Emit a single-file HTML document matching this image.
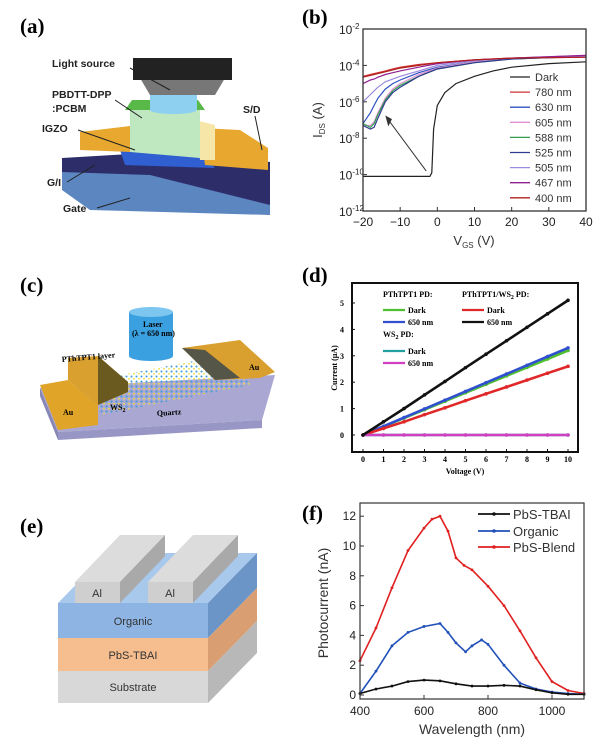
<!DOCTYPE html>
<html><head><meta charset="utf-8"><style>
html,body{margin:0;padding:0;background:#fff;}
svg{display:block;font-family:"Liberation Sans",sans-serif;}
.pl{font-family:"Liberation Serif",serif;font-weight:bold;font-size:21px;}
.tk{font-size:12px;fill:#222;}
.sr{font-family:"Liberation Serif",serif;font-weight:bold;font-size:8px;}
</style></head><body>
<svg id="fig" width="600" height="747" viewBox="0 0 600 747" xmlns="http://www.w3.org/2000/svg">
<defs>
<pattern id="dots" width="5" height="5" patternUnits="userSpaceOnUse"><circle cx="1.5" cy="1.5" r="1" fill="#3b9ad8"/><circle cx="4" cy="3.8" r="0.9" fill="#e8e040"/></pattern>
</defs>
<!-- panel a -->
<g>
<text class="pl" x="20" y="33">(a)</text>
<polygon points="62,158 200,150 270,162 270,215 62,190" fill="#2d2d6a"/>
<polygon points="62,172 150,175 270,205 270,215 90,210 62,190" fill="#5b86c0"/>
<polygon points="120,150 200,150 215,168 125,165" fill="#2f5fd0"/>
<polygon points="80,132 130,126 130,152 80,150" fill="#e8a830"/>
<polygon points="200,128 240,130 268,148 268,170 205,165" fill="#e8a830"/>
<polygon points="195,120 215,125 215,160 200,160" fill="#f6e6a8"/>
<polygon points="130,108 200,108 200,158 130,152" fill="#bfe8c0"/>
<polygon points="132,100 198,100 205,110 125,110" fill="#58b848"/>
<rect x="150" y="88" width="47" height="22" fill="#8ed0f0"/>
<ellipse cx="173.5" cy="110" rx="23.5" ry="4" fill="#8ed0f0"/>
<polygon points="140,78 225,78 215,95 150,95" fill="#777"/>
<rect x="133" y="58" width="99" height="22" fill="#222"/>
<g font-weight="bold" font-size="10.5" fill="#222">
<text x="52" y="67">Light source</text>
<text x="52" y="98">PBDTT-DPP</text>
<text x="52" y="112">:PCBM</text>
<text x="42" y="132">IGZO</text>
<text x="243" y="113">S/D</text>
<text x="47" y="186">G/I</text>
<text x="63" y="212">Gate</text>
</g>
<g stroke="#222" stroke-width="1">
<line x1="130" y1="68" x2="170" y2="90"/><line x1="115" y1="100" x2="142" y2="118"/>
<line x1="78" y1="130" x2="135" y2="150"/><line x1="255" y1="116" x2="262" y2="150"/>
<line x1="67" y1="182" x2="95" y2="165"/><line x1="97" y1="208" x2="130" y2="198"/>
</g>
</g>
<!-- panel c -->
<g>
<text class="pl" x="20" y="292">(c)</text>
<polygon points="40,388 275,375 262,420 58,432" fill="#aaa8d2"/>
<polygon points="40,388 58,432 58,440 40,396" fill="#8886b5"/>
<polygon points="58,432 262,420 262,428 58,440" fill="#9896c4"/>
<polygon points="95,380 240,352 250,385 100,415" fill="url(#dots)"/>
<polygon points="40,385 68,380 98,405 98,425 58,430" fill="#e0a528"/>
<polygon points="68,358 98,356 128,382 98,405 68,380" fill="#d9a030"/>
<polygon points="98,356 128,382 128,392 98,405" fill="#6b5a20"/>
<polygon points="182,348 240,340 275,372 260,378 215,380" fill="#d9a030"/>
<polygon points="182,348 215,380 240,378 205,350" fill="#555548"/>
<rect x="129" y="312" width="44" height="44" fill="#3aa0e0"/>
<ellipse cx="151" cy="312" rx="22" ry="5" fill="#7cc6f0"/>
<ellipse cx="151" cy="356" rx="22" ry="5" fill="#3aa0e0"/>
<text class="sr" x="143" y="327" font-size="6">Laser</text>
<text class="sr" x="132" y="336" font-size="6">(λ = 650 nm)</text>
<text class="sr" x="62" y="362" font-size="7" transform="rotate(-5 62 362)">PThTPT1 layer</text>
<text class="sr" x="63" y="415" font-size="11" font-weight="normal">Au</text>
<text class="sr" x="249" y="370" font-size="9" font-weight="normal">Au</text>
<text class="sr" x="110" y="410" font-size="8">WS<tspan font-size="6" dy="2">2</tspan></text>
<text class="sr" x="157" y="416" font-size="9" font-weight="normal" transform="rotate(-4 157 416)">Quartz</text>
</g>
<!-- panel e -->
<g>
<text class="pl" x="20" y="533">(e)</text>
<polygon points="58,603 208,603 257,553 107,553" fill="#a8c8ec"/>
<polygon points="208,603 257,553 257,588 208,638" fill="#6b95c6"/>
<polygon points="208,638 257,588 257,621 208,671" fill="#d99f72"/>
<polygon points="208,671 257,621 257,653 208,703" fill="#b8b8b8"/>
<rect x="58" y="603" width="150" height="35" fill="#8eb4e3"/>
<rect x="58" y="638" width="150" height="33" fill="#f6bd8f"/>
<rect x="58" y="671" width="150" height="32" fill="#d8d8d8"/>
<polygon points="75,582 120,582 165,535 120,535" fill="#dcdcdc"/>
<polygon points="120,582 165,535 165,556 120,603" fill="#a9a9a9"/>
<rect x="75" y="582" width="45" height="21" fill="#cfcfcf"/>
<polygon points="148,582 193,582 238,535 193,535" fill="#dcdcdc"/>
<polygon points="193,582 238,535 238,556 193,603" fill="#a9a9a9"/>
<rect x="148" y="582" width="45" height="21" fill="#cfcfcf"/>
<g font-size="11" fill="#333" text-anchor="middle">
<text x="97" y="597">Al</text><text x="170" y="597">Al</text>
<text x="133" y="625">Organic</text><text x="133" y="659">PbS-TBAI</text><text x="133" y="691">Substrate</text>
</g>
</g>
<g id="cb"></g>
<g id="cd"></g>
<g id="cf"></g>
</svg>
<script>
// ---- chart b data ----
const bDarkV = [-20,-2,-1.5,-1,0,2,5,10,15,20,30,40];
const bDarkLog = [-10.1,-10.1,-9.9,-7.5,-6.2,-5.5,-5,-4.6,-4.3,-4.1,-3.9,-3.8];
const bLightV = [-20,-18,-17,-16,-14,-12,-10,-5,0,10,20,40];
const bNames = ["780 nm","630 nm","605 nm","588 nm","525 nm","505 nm","467 nm","400 nm"];
const bColors = ["#d03030","#3050c0","#e090d0","#30a050","#303a90","#9a8ae0","#902090","#b02020"];
const b780 = [-4.6,-4.5,-4.45,-4.4,-4.3,-4.2,-4.1,-3.95,-3.85,-3.7,-3.6,-3.55];
const b630 = [-7.2,-6.6,-6.2,-5.8,-5.3,-5.0,-4.8,-4.4,-4.1,-3.8,-3.6,-3.5];
const b605 = [-7.3,-7.3,-7.1,-6.6,-5.8,-5.3,-5.0,-4.5,-4.15,-3.8,-3.6,-3.45];
const b588 = [-7.2,-7.4,-7.2,-6.7,-5.9,-5.4,-5.1,-4.6,-4.2,-3.85,-3.65,-3.5];
const b525 = [-7.3,-7.5,-7.4,-6.9,-6.0,-5.5,-5.2,-4.6,-4.2,-3.85,-3.65,-3.5];
const b505 = [-6.0,-5.6,-5.4,-5.2,-4.9,-4.75,-4.6,-4.3,-4.0,-3.75,-3.6,-3.5];
const b467 = [-5.0,-4.8,-4.75,-4.65,-4.5,-4.4,-4.3,-4.1,-3.9,-3.7,-3.6,-3.45];
const b400 = [-4.65,-4.55,-4.5,-4.45,-4.35,-4.25,-4.15,-4.0,-3.85,-3.7,-3.6,-3.55];
const bXTicks = [-20,-10,0,10,20,30,40];
const bYTicks = [-2,-4,-6,-8,-10,-12];
// ---- chart d data ----
const dV = [0,1,2,3,4,5,6,7,8,9,10];
const dNames = ["Dark","650 nm","Dark","650 nm","Dark","650 nm"];
const dGreen = [0,0.32,0.64,0.96,1.28,1.6,1.92,2.24,2.56,2.88,3.2];
const dBlue = [0,0.33,0.66,0.99,1.32,1.65,1.98,2.31,2.64,2.97,3.3];
const dRed = [0,0.25,0.5,0.77,1.03,1.3,1.56,1.82,2.08,2.34,2.6];
const dBlack = [0,0.5,1.0,1.52,2.03,2.55,3.06,3.57,4.08,4.59,5.1];
const dTeal = [0,0,0,0,0,0,0,0,0,0,0];
const dMagenta = [0,0,0,0,0,0,0,0,0,0,0];
const dXTicks = [0,1,2,3,4,5,6,7,8,9,10];
const dYTicks = [0,1,2,3,4,5];
// ---- chart f data ----
const fRedW = [400,450,500,550,600,625,650,675,700,725,750,800,850,900,950,1000,1050,1100];
const fRed = [2.3,4.5,7.2,9.7,11.2,11.8,12.0,11.0,9.2,8.7,8.4,7.3,6.0,4.3,2.5,0.9,0.3,0.1];
const fBlueW = [400,450,500,550,600,650,675,700,730,750,780,800,850,900,950,1000,1050,1100];
const fBlue = [0.1,1.6,3.3,4.2,4.6,4.8,4.2,3.5,2.9,3.3,3.7,3.4,2.0,0.8,0.4,0.2,0.1,0.05];
const fBlackW = [400,450,500,550,600,650,700,750,800,850,900,950,1000,1050,1100];
const fBlack = [0.1,0.4,0.6,0.9,1.0,0.95,0.75,0.6,0.6,0.65,0.6,0.35,0.15,0.05,0.05];
const fXTicks = [400,600,800,1000];
const fYTicks = [0,2,4,6,8,10,12];

const NS="http://www.w3.org/2000/svg";
function mk(tag,attrs,parent){const e=document.createElementNS(NS,tag);for(const k in attrs)e.setAttribute(k,attrs[k]);parent.appendChild(e);return e;}
function txt(s,x,y,parent,extra){const t=mk('text',Object.assign({x:x,y:y},extra||{}),parent);t.innerHTML=s;return t;}
function path(xs,ys,fx,fy){return xs.map((v,i)=>(i?'L':'M')+fx(v).toFixed(1)+','+fy(ys[i]).toFixed(1)).join('');}

// ===== chart b =====
(function(){
const g=document.getElementById('cb');
const X0=363,X1=586,Y0=211,Y1=29;
const fx=v=>X0+(v+20)/60*(X1-X0), fy=l=>Y0-(l+12)/10*(Y0-Y1);
const lbl=txt('(b)',302,24,g,{class:'pl'});


bXTicks.forEach(v=>{mk('line',{x1:fx(v),x2:fx(v),y1:Y0,y2:Y0-4,stroke:'#333'},g);const t=txt(String(v).replace('-','−'),fx(v),226,g,{class:'tk','text-anchor':'middle'});});
bYTicks.forEach(v=>{mk('line',{x1:X0,x2:X0+4,y1:fy(v),y2:fy(v),stroke:'#333'},g);const t=txt('10<tspan font-size="8" dy="-5">'+v+'</tspan>',X0-24,fy(v)+5,g,{class:'tk'});});
const series=[b780,b630,b605,b588,b525,b505,b467,b400];
series.forEach((s,i)=>{const p=mk('path',{d:path(bLightV,s,fx,fy),fill:'none',stroke:bColors[i],'stroke-width':1.2},g);});
const pd=mk('path',{d:path(bDarkV,bDarkLog,fx,fy),fill:'none',stroke:'#222','stroke-width':1.2},g);


mk('line',{x1:fx(-3),y1:fy(-9.8),x2:fx(-13.5),y2:fy(-6.9),stroke:'#333','stroke-width':1},g);
mk('polygon',{points:`${fx(-14)},${fy(-6.75)} ${fx(-12.2)},${fy(-6.95)} ${fx(-13.2)},${fy(-7.35)}`,fill:'#333'},g);
mk('rect',{x:X0,y:Y1,width:X1-X0,height:Y0-Y1,fill:'none',stroke:'#333','stroke-width':1.3},g);
const names=['Dark'].concat(bNames),cols=['#222'].concat(bColors);
names.forEach((n,i)=>{const y=77+i*15.1;mk('line',{x1:510,x2:530,y1:y,y2:y,stroke:cols[i],'stroke-width':1.3},g);const t=txt(n,535,y+4,g,{'font-size':11,fill:'#333'});});
const yt=txt('I<tspan font-size="8" dy="3">DS</tspan><tspan dy="-3"> (A)</tspan>',0,0,g,{'font-size':13,fill:'#333','text-anchor':'middle',transform:'translate(322,120) rotate(-90)'});

const xt=txt('V<tspan font-size="8" dy="3">GS</tspan><tspan dy="-3"> (V)</tspan>',474,245,g,{'font-size':13,fill:'#333','text-anchor':'middle'});

})();

// ===== chart d =====
(function(){
const g=document.getElementById('cd');
const X0=352,X1=578,Y0=452,Y1=283;
const fx=v=>363+v/10*(568-363), fy=v=>435-v*26.4;
const lbl=txt('(d)',302,282,g,{class:'pl'});

dXTicks.forEach(v=>{mk('line',{x1:fx(v),x2:fx(v),y1:Y0,y2:Y0-3,stroke:'#111'},g);const t=txt(v,fx(v),462,g,{class:'sr','text-anchor':'middle'});});
dYTicks.forEach(v=>{mk('line',{x1:X0,x2:X0+3,y1:fy(v),y2:fy(v),stroke:'#111'},g);const t=txt(v,X0-8,fy(v)+3,g,{class:'sr','text-anchor':'end'});});
const S=[[dTeal,'#20a0a0'],[dGreen,'#50c030'],[dBlue,'#3050d0'],[dRed,'#e02828'],[dMagenta,'#d040c0'],[dBlack,'#111']];
const sn=['ws2-dark','pthtpt1-dark','pthtpt1-650','hetero-dark','ws2-650','hetero-650'];
S.forEach((s,i)=>{const p=mk('path',{d:path(dV,s[0],fx,fy),fill:'none',stroke:s[1],'stroke-width':2.6},g);
 s[0].forEach((v,j)=>{const c=mk('circle',{cx:fx(dV[j]),cy:fy(v),r:1.8,fill:s[1]},g);});});
mk('rect',{x:X0,y:Y1,width:X1-X0,height:Y0-Y1,fill:'none',stroke:'#111','stroke-width':2},g);
txt('PThTPT1 PD:',383,297,g,{class:'sr'});
txt('PThTPT1/WS<tspan font-size="6" dy="2">2</tspan><tspan dy="-2"> PD:</tspan>',462,297,g,{class:'sr'});
txt('WS<tspan font-size="6" dy="2">2</tspan><tspan dy="-2"> PD:</tspan>',383,337,g,{class:'sr'});
const L=[[383,310,'#50c030',dNames[0]],[383,322,'#3050d0',dNames[1]],[462,310,'#e02828',dNames[2]],[462,322,'#111',dNames[3]],[383,351,'#20a0a0',dNames[4]],[383,363,'#d040c0',dNames[5]]];
L.forEach(l=>{mk('line',{x1:l[0],x2:l[0]+22,y1:l[1],y2:l[1],stroke:l[2],'stroke-width':2.2},g);const t=txt(l[3],l[0]+25,l[1]+3,g,{class:'sr'});});
const yt=txt('Current (μA)',0,0,g,{class:'sr','font-size':12,'text-anchor':'middle',transform:'translate(337,368) rotate(-90)'});

const xt=txt('Voltage (V)',465,474,g,{class:'sr','font-size':12,'text-anchor':'middle'});

})();

// ===== chart f =====
(function(){
const g=document.getElementById('cf');
const X0=360,X1=584,Y0=699,Y1=503;
const fx=w=>X0+(w-400)*0.32, fy=v=>695-v*14.9;
const lbl=txt('(f)',302,520,g,{class:'pl'});

fXTicks.forEach(v=>{mk('line',{x1:fx(v),x2:fx(v),y1:Y0,y2:Y0-4,stroke:'#333'},g);const t=txt(v,fx(v),715,g,{class:'tk','text-anchor':'middle'});});
fYTicks.forEach(v=>{mk('line',{x1:X0,x2:X0+4,y1:fy(v),y2:fy(v),stroke:'#333'},g);const t=txt(v,X0-4,fy(v)+4,g,{class:'tk','text-anchor':'end'});});
const S=[[fRedW,fRed,'#e02020','pbs-blend'],[fBlueW,fBlue,'#2050b8','organic'],[fBlackW,fBlack,'#111','pbs-tbai']];
S.forEach(s=>{const p=mk('path',{d:path(s[0],s[1],fx,fy),fill:'none',stroke:s[2],'stroke-width':1.6},g);
 s[1].forEach((v,j)=>{const c=mk('circle',{cx:fx(s[0][j]),cy:fy(v),r:1.4,fill:s[2]},g);});});
mk('rect',{x:X0,y:Y1,width:X1-X0,height:Y0-Y1,fill:'none',stroke:'#333','stroke-width':1.2},g);
[['PbS-TBAI','#111',514],['Organic','#2050b8',531],['PbS-Blend','#e02020',547]].forEach(l=>{mk('line',{x1:478,x2:510,y1:l[2],y2:l[2],stroke:l[1],'stroke-width':1.8},g);mk('circle',{cx:494,cy:l[2],r:1.8,fill:l[1]},g);const t=txt(l[0],513,l[2]+5,g,{'font-size':13,fill:'#333'});});
const yt=txt('Photocurrent (nA)',0,0,g,{'font-size':14,fill:'#333','text-anchor':'middle',transform:'translate(328,603) rotate(-90)'});

const xt=txt('Wavelength (nm)',472,734,g,{'font-size':14,fill:'#333','text-anchor':'middle'});

})();
</script>
</body></html>
